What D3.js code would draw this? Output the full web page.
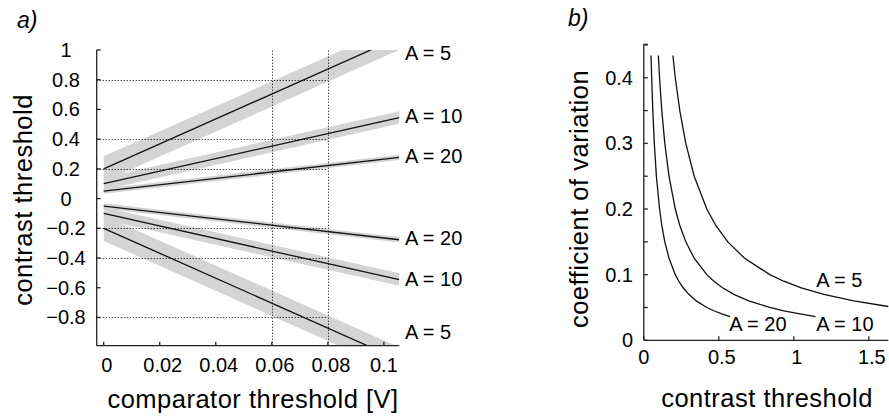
<!DOCTYPE html>
<html><head><meta charset="utf-8">
<script src="https://cdn.jsdelivr.net/npm/d3@7"></script>
<style>
html,body{margin:0;padding:0;background:#fff;}
svg{display:block;font-family:"Liberation Sans",Arial,Helvetica,sans-serif;}
</style></head>
<body><svg id="chart" width="889" height="419"></svg>
<script>
// ---------- Panel a data ----------
const gainLabels = ["A = 5", "A = 10", "A = 20"];
const xTicksA = [0, 0.02, 0.04, 0.06, 0.08, 0.1];
const xTickLabelsA = ["0", "0.02", "0.04", "0.06", "0.08", "0.1"];
const yTicksA = [1, 0.8, 0.6, 0.4, 0.2, 0, -0.2, -0.4, -0.6, -0.8];
const yTickLabelsA = ["1", "0.8", "0.6", "0.4", "0.2", "0", "\u22120.2", "\u22120.4", "\u22120.6", "\u22120.8"];
const compRange = [0, 0.1055];
const posStart = [0.2, 0.1, 0.05];
const posEnd = [1.086, 0.545, 0.277];
const negStart = [-0.2, -0.1, -0.05];
const negEnd = [-1.086, -0.545, -0.277];
const bandHalf = [0.085, 0.042, 0.018];
const gridYA = [0.8, 0.4, 0.2, -0.2, -0.4, -0.8];
const gridXA = [0.06, 0.08];

// ---------- Panel b data ----------
const xTicksB = [0, 0.5, 1, 1.5];
const xTickLabelsB = ["0", "0.5", "1", "1.5"];
const yTicksB = [0, 0.05, 0.1, 0.15, 0.2, 0.25, 0.3, 0.35, 0.4, 0.45];
const yTickLabelsB = ["0", "", "0.1", "", "0.2", "", "0.3", "", "0.4", ""];
const cvA5 = [0.434, 0.4, 0.35, 0.3, 0.25, 0.2, 0.175, 0.15, 0.125, 0.1, 0.09, 0.08, 0.07, 0.06, 0.0515];
const ctA5 = [0.194, 0.21, 0.24, 0.28, 0.336, 0.42, 0.48, 0.56, 0.672, 0.84, 0.933, 1.05, 1.2, 1.4, 1.63];
const cvA10 = [0.434, 0.4, 0.35, 0.3, 0.25, 0.2, 0.175, 0.15, 0.125, 0.1, 0.09, 0.08, 0.07, 0.06, 0.05, 0.045, 0.04, 0.036];
const ctA10 = [0.097, 0.105, 0.12, 0.14, 0.168, 0.21, 0.24, 0.28, 0.336, 0.42, 0.467, 0.525, 0.6, 0.7, 0.84, 0.933, 1.05, 1.145];
const cvA20 = [0.434, 0.4, 0.35, 0.3, 0.25, 0.2, 0.175, 0.15, 0.125, 0.1, 0.09, 0.08, 0.07, 0.06, 0.05, 0.045, 0.04, 0.036];
const ctA20 = [0.048, 0.0525, 0.06, 0.07, 0.084, 0.105, 0.12, 0.14, 0.168, 0.21, 0.233, 0.2625, 0.3, 0.35, 0.42, 0.467, 0.525, 0.575];

const svg = d3.select("#chart");
svg.append("rect").attr("width", 889).attr("height", 419).attr("fill", "#fff");

const tickFont = 20, axisFont = 25.5, axisLS = 0.5;
const lineCol = "#111", bandCol = "#d4d4d4";

// ================= Panel a =================
const xA = d3.scaleLinear().domain([-0.0025, 0.1055]).range([96.7, 399.3]);
const yA = d3.scaleLinear().domain([-0.99, 1.0]).range([345.7, 50]);
const gA = svg.append("g");

gA.append("clipPath").attr("id", "clipA").append("rect")
  .attr("x", xA.range()[0]).attr("y", yA.range()[1])
  .attr("width", xA.range()[1] - xA.range()[0]).attr("height", yA.range()[0] - yA.range()[1]);

const plotA = gA.append("g").attr("clip-path", "url(#clipA)");
const series = [];
for (let i = 0; i < 3; i++) {
  series.push({s: posStart[i], e: posEnd[i], h: bandHalf[i]});
  series.push({s: negStart[i], e: negEnd[i], h: bandHalf[i]});
}
const area = d3.area().x(d => xA(d[0])).y0(d => yA(d[1] - d[2])).y1(d => yA(d[1] + d[2]));
series.forEach(sr => {
  plotA.append("path")
    .datum([[compRange[0], sr.s, sr.h], [compRange[1], sr.e, sr.h]])
    .attr("d", area).attr("fill", bandCol);
});
// dotted grid
gridYA.forEach(v => {
  gA.append("line").attr("x1", xA.range()[0]).attr("x2", xA(0.08))
    .attr("y1", Math.round(yA(v)) + 0.5).attr("y2", Math.round(yA(v)) + 0.5)
    .attr("stroke", "#000").attr("stroke-width", 1).attr("stroke-dasharray", "1,2");
});
gridXA.forEach(v => {
  gA.append("line").attr("x1", Math.round(xA(v)) + 0.5).attr("x2", Math.round(xA(v)) + 0.5)
    .attr("y1", yA.range()[0]).attr("y2", yA.range()[1])
    .attr("stroke", "#000").attr("stroke-width", 1).attr("stroke-dasharray", "1,2");
});
const lineA = d3.line().x(d => xA(d[0])).y(d => yA(d[1]));
series.forEach(sr => {
  plotA.append("path").datum([[compRange[0], sr.s], [compRange[1], sr.e]])
    .attr("d", lineA).attr("fill", "none").attr("stroke", lineCol).attr("stroke-width", 1.3);
});

// axes a
const axA = gA.append("g").attr("stroke", "#222").attr("stroke-width", 1.3);
axA.append("line").attr("x1", xA.range()[0]).attr("x2", xA.range()[0]).attr("y1", yA.range()[1]).attr("y2", yA.range()[0]);
axA.append("line").attr("x1", xA.range()[0]).attr("x2", xA.range()[1]).attr("y1", yA.range()[0]).attr("y2", yA.range()[0]);
yTicksA.forEach(v => axA.append("line").attr("x1", xA.range()[0]).attr("x2", xA.range()[0] + 4).attr("y1", yA(v)).attr("y2", yA(v)));
xTicksA.forEach(v => axA.append("line").attr("x1", xA(v)).attr("x2", xA(v)).attr("y1", yA.range()[0]).attr("y2", yA.range()[0] - 4));

yTicksA.forEach((v, i) => gA.append("text").attr("x", 66).attr("y", yA(v)).attr("dy", "0.35em")
  .attr("text-anchor", "middle").attr("font-size", tickFont).text(yTickLabelsA[i]));
xTicksA.forEach((v, i) => gA.append("text").attr("x", xA(v) + (v === 0.1 ? 0 : 3)).attr("y", 372)
  .attr("text-anchor", "middle").attr("font-size", tickFont).text(xTickLabelsA[i]));

// curve labels a
const labYTop = [0.98, 0.555, 0.285];
const labYBot = [-0.895, -0.54, -0.265];
gainLabels.forEach((t, i) => {
  gA.append("text").attr("x", 405).attr("y", yA(labYTop[i])).attr("dy", "0.35em").attr("font-size", tickFont).text(t);
  gA.append("text").attr("x", 405).attr("y", yA(labYBot[i])).attr("dy", "0.35em").attr("font-size", tickFont).text(t);
});

gA.append("text").attr("transform", "translate(32,200) rotate(-90)").attr("text-anchor", "middle")
  .attr("font-size", axisFont).attr("letter-spacing", axisLS).text("contrast threshold");
gA.append("text").attr("x", 253).attr("y", 408).attr("text-anchor", "middle")
  .attr("font-size", axisFont).attr("letter-spacing", axisLS).text("comparator threshold [V]");
gA.append("text").attr("x", 17).attr("y", 28).attr("font-size", 23).attr("font-style", "italic").text("a)");

// ================= Panel b =================
const xB = d3.scaleLinear().domain([0, 1.63]).range([643.8, 888.3]);
const yB = d3.scaleLinear().domain([0, 0.451]).range([340.3, 44.3]);
const gB = svg.append("g");
const curves = [[ctA5, cvA5], [ctA10, cvA10], [ctA20, cvA20]];
const lineB = d3.line().x(d => xB(d[0])).y(d => yB(d[1]));
curves.forEach(c => {
  const pts = c[0].map((v, i) => [v, c[1][i]]);
  gB.append("path").datum(pts).attr("d", lineB).attr("fill", "none")
    .attr("stroke", lineCol).attr("stroke-width", 1.3);
});
const axB = gB.append("g").attr("stroke", "#222").attr("stroke-width", 1.3);
axB.append("line").attr("x1", xB(0)).attr("x2", xB(0)).attr("y1", yB.range()[1]).attr("y2", yB.range()[0]);
axB.append("line").attr("x1", xB(0)).attr("x2", xB.range()[1]).attr("y1", yB(0)).attr("y2", yB(0));
yTicksB.forEach(v => axB.append("line").attr("x1", xB(0)).attr("x2", xB(0) + 4).attr("y1", yB(v)).attr("y2", yB(v)));
axB.append("line").attr("x1", xB(0)).attr("x2", xB(0) + 4).attr("y1", yB.range()[1]).attr("y2", yB.range()[1]);
xTicksB.forEach(v => axB.append("line").attr("x1", xB(v)).attr("x2", xB(v)).attr("y1", yB(0)).attr("y2", yB(0) - 4));

yTicksB.forEach((v, i) => gB.append("text").attr("x", 633).attr("y", yB(v)).attr("dy", "0.35em")
  .attr("text-anchor", "end").attr("font-size", tickFont).text(yTickLabelsB[i]));
xTicksB.forEach((v, i) => gB.append("text").attr("x", xB(v) + (i === 0 ? 0 : 3)).attr("y", 363.5)
  .attr("text-anchor", "middle").attr("font-size", tickFont).text(xTickLabelsB[i]));

const labB = [[1.15, 0.0805], [1.15, 0.0145], [0.57, 0.0145]];
gainLabels.forEach((t, i) => {
  gB.append("text").attr("x", xB(labB[i][0])).attr("y", yB(labB[i][1])).attr("font-size", tickFont).text(t);
});

gB.append("text").attr("transform", "translate(588,199) rotate(-90)").attr("text-anchor", "middle")
  .attr("font-size", axisFont).attr("letter-spacing", axisLS).text("coefficient of variation");
gB.append("text").attr("x", 767).attr("y", 407).attr("text-anchor", "middle")
  .attr("font-size", axisFont).attr("letter-spacing", axisLS).text("contrast threshold");
gB.append("text").attr("x", 568).attr("y", 26).attr("font-size", 23).attr("font-style", "italic").text("b)");
</script></body></html>
